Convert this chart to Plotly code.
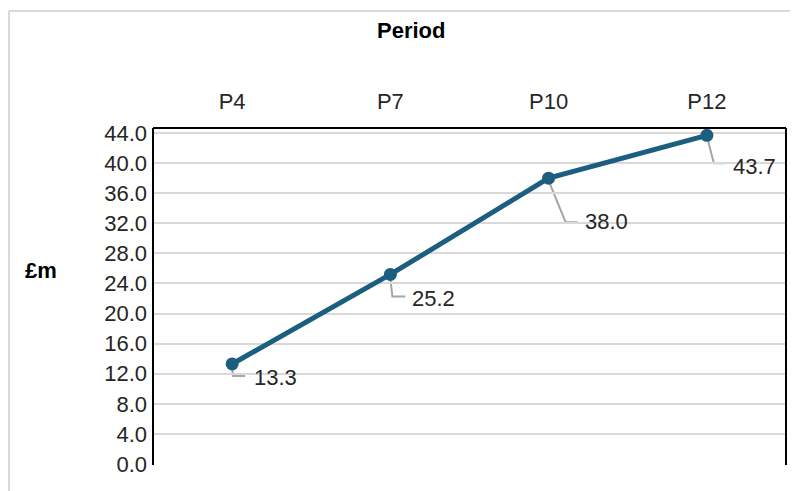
import plotly.graph_objects as go

periods = ["P4", "P7", "P10", "P12"]
values = [13.3, 25.2, 38.0, 43.7]
y_ticks = [0, 4, 8, 12, 16, 20, 24, 28, 32, 36, 40, 44]

LINE_COLOR = "#1B5E80"
FONT = "Liberation Sans, Arial, sans-serif"
FS = 22

# page body has an 8px margin; figure sized so the plot lands where intended
OFF = 8
W, H = 798 - OFF, 491 - OFF
PL, PT, PR, PB = 153, 128, 786, 464  # target plot box in window pixels
ML, MT = PL - OFF, PT - OFF
MR, MB = OFF + W - PR, OFF + H - PB
PW, PH = PR - PL, PB - PT


def px(xw):
    return (xw - PL) / PW


def py(yw):
    return (PB - yw) / PH


# label placement styles (pixel offsets from each point)
leader_paths = ["M 0,-5 L 1,-12 L 13,-12",
                "M 0,-5 L 2,-22 L 15,-22",
                "M 1,-5 L 17,-44 L 29,-44",
                "M 1,-5 L 7,-28 L 18,-28"]
label_dx = [20, 20, 34, 24]
label_dy = [14, 24, 43, 31]

fig = go.Figure()
fig.add_trace(go.Scatter(
    x=periods, y=values, mode="lines+markers",
    line=dict(color=LINE_COLOR, width=5),
    marker=dict(color=LINE_COLOR, size=13),
    hoverinfo="skip", showlegend=False, cliponaxis=False,
))

shapes = []
annotations = []
for i, (p, v) in enumerate(zip(periods, values)):
    shapes.append(dict(type="path", xref="x", yref="y", xsizemode="pixel", ysizemode="pixel",
                       xanchor=p, yanchor=v, path=leader_paths[i],
                       line=dict(color="#A6A6A6", width=2), layer="below"))
    annotations.append(dict(x=p, y=v, xref="x", yref="y", text=f"{v:.1f}", showarrow=False,
                            xanchor="left", yanchor="middle", xshift=label_dx[i], yshift=-label_dy[i],
                            font=dict(family=FONT, size=FS, color="#262626")))

# plot frame: left, top, right lines
shapes += [
    dict(type="line", xref="paper", yref="paper", x0=0, x1=0, y0=-0.003, y1=1, line=dict(color="black", width=2)),
    dict(type="line", xref="paper", yref="paper", x0=0, x1=1, y0=1, y1=1, line=dict(color="black", width=2)),
    dict(type="line", xref="paper", yref="paper", x0=1, x1=1, y0=-0.003, y1=1, line=dict(color="black", width=2)),
    # outer chart border (light gray)
    dict(type="line", xref="paper", yref="paper", x0=px(9), x1=px(9),
         y0=py(495), y1=py(11), line=dict(color="#D9D9D9", width=2)),
    dict(type="line", xref="paper", yref="paper", x0=px(9), x1=px(800),
         y0=py(11), y1=py(11), line=dict(color="#D9D9D9", width=2)),
]

annotations += [
    dict(text="<b>Period</b>", xref="paper", yref="paper", x=px(411), y=py(31),
         showarrow=False, xanchor="center", yanchor="middle", font=dict(family=FONT, size=FS, color="black")),
    dict(text="<b>£m</b>", xref="paper", yref="paper", x=px(41), y=py(270),
         showarrow=False, xanchor="center", yanchor="middle", font=dict(family=FONT, size=FS, color="black")),
]

fig.update_layout(
    width=W, height=H,
    margin=dict(l=ML, r=MR, t=MT, b=MB),
    paper_bgcolor="white", plot_bgcolor="white",
    font=dict(family=FONT, size=FS, color="#262626"),
    shapes=shapes, annotations=annotations,
    xaxis=dict(side="top", type="category", range=[-0.5, 3.5], showgrid=False, zeroline=False,
               showline=False, ticks="", ticklabelstandoff=14,
               tickfont=dict(family=FONT, size=FS, color="#262626")),
    yaxis=dict(range=[0, 44.67], tickvals=y_ticks, ticktext=[f"{t:.1f}" for t in y_ticks],
               showgrid=True, gridcolor="#D9D9D9", gridwidth=2, zeroline=False, showline=False,
               ticks="", ticklabelstandoff=5, tickfont=dict(family=FONT, size=FS, color="#262626")),
)

fig.write_html("out.html")
